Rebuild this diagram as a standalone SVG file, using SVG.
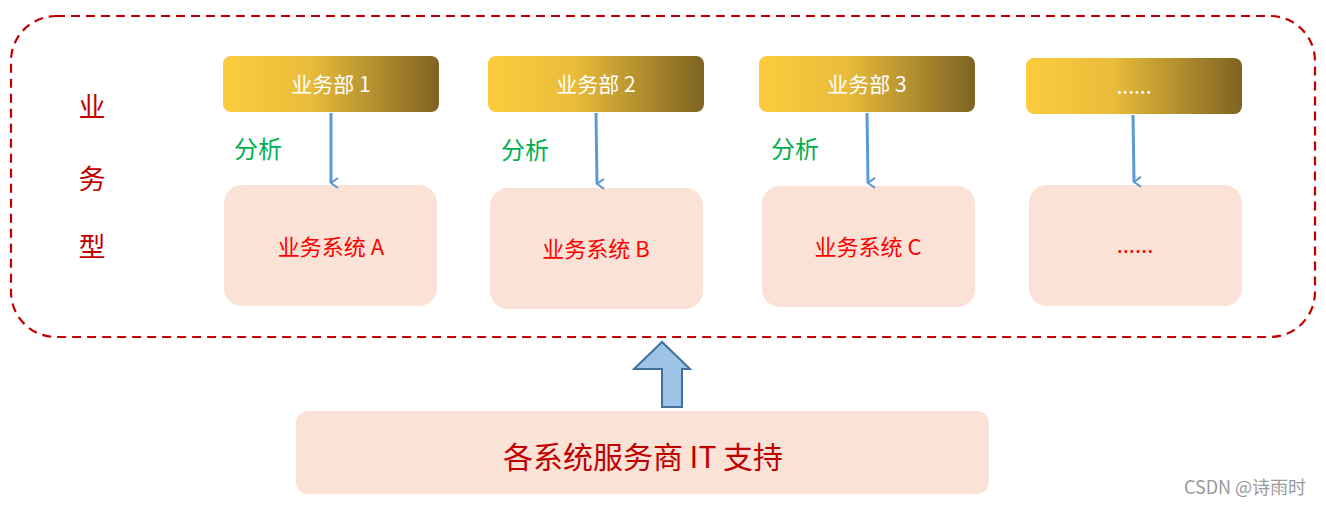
<svg xmlns="http://www.w3.org/2000/svg" width="1326" height="505" viewBox="0 0 1326 505">
<defs>
<linearGradient id="g" x1="0" x2="1" y1="0" y2="0"><stop offset="0" stop-color="#FCCC3E"/><stop offset="0.4" stop-color="#E9BC3A"/><stop offset="1" stop-color="#7E6323"/></linearGradient>
<marker id="ah" viewBox="0 0 12 12" refX="6" refY="11" markerWidth="12" markerHeight="12" markerUnits="userSpaceOnUse" orient="auto-start-reverse"><path d="M1 4 L6 11 L11 4" fill="none" stroke="#5B9BD5" stroke-width="2"/></marker>
<style>
.hd{fill:url(#g)}
.ht{font-family:"Noto Sans CJK SC","Liberation Sans",sans-serif;font-size:21px;fill:#fff;text-anchor:middle}
.sb{fill:#FAE3D6}
.st{font-family:"Noto Sans CJK SC","Liberation Sans",sans-serif;font-size:22px;fill:#FF0000;text-anchor:middle}
.an{font-family:"Noto Sans CJK SC",sans-serif;font-size:24px;fill:#00B050}
.cn line{stroke:#5B9BD5;stroke-width:3;marker-end:url(#ah)}
</style>
</defs>
<rect x="11" y="16" width="1304" height="321" rx="45" fill="none" stroke="#C00000" stroke-width="2.2" stroke-dasharray="9,6"/>
<g id="label" font-family="Noto Sans CJK SC,sans-serif" font-size="27" fill="#C00000" text-anchor="middle"><text x="92" y="117">业</text><text x="92" y="189">务</text><text x="92" y="257">型</text></g>
<g id="d1"><rect class="hd" x="223" y="56" width="216" height="56" rx="8"/><text class="ht" x="331" y="92">业务部  1</text></g>
<g id="d2"><rect class="hd" x="488" y="56" width="216" height="56" rx="8"/><text class="ht" x="596" y="92">业务部  2</text></g>
<g id="d3"><rect class="hd" x="759" y="56" width="216" height="56" rx="8"/><text class="ht" x="867" y="92">业务部  3</text></g>
<g id="d4"><rect class="hd" x="1026" y="58" width="216" height="56" rx="8"/><text class="ht" x="1134" y="94">......</text></g>
<g id="sa"><rect class="sb" x="224" y="185" width="213" height="121" rx="18"/><text class="st" x="331" y="255">业务系统  A</text></g>
<g id="sb"><rect class="sb" x="490" y="188" width="213" height="121" rx="18"/><text class="st" x="596" y="257">业务系统  B</text></g>
<g id="sc"><rect class="sb" x="762" y="186" width="213" height="121" rx="18"/><text class="st" x="868" y="255">业务系统  C</text></g>
<g id="sd"><rect class="sb" x="1029" y="185" width="213" height="121" rx="18"/><text class="st" x="1135" y="253">......</text></g>
<g id="notes"><text class="an" x="234" y="158">分析</text><text class="an" x="501" y="159">分析</text><text class="an" x="771" y="158">分析</text></g>
<g id="connectors" class="cn">
<line x1="331" y1="113" x2="331" y2="183"/><line x1="596" y1="113" x2="597" y2="184"/><line x1="867" y1="113" x2="868" y2="183"/><line x1="1133" y1="115" x2="1134" y2="182"/>
<path d="M662 407 L662 369 L634 369 L662 342 L690 369 L682 369 L682 407 Z" fill="#9DC3E6" stroke="#41719C" stroke-width="2" transform="translate(0,0)"/>
</g>
<g id="it"><rect class="sb" x="296" y="411" width="693" height="83" rx="12"/><text x="643" y="468" font-family="Noto Sans CJK SC,sans-serif" font-size="30" fill="#C00000" text-anchor="middle">各系统服务商  IT  支持</text></g>
<text x="1245" y="494" font-family="Noto Sans CJK SC,sans-serif" font-size="18" fill="#999" text-anchor="middle">CSDN @诗雨时</text>
</svg>
